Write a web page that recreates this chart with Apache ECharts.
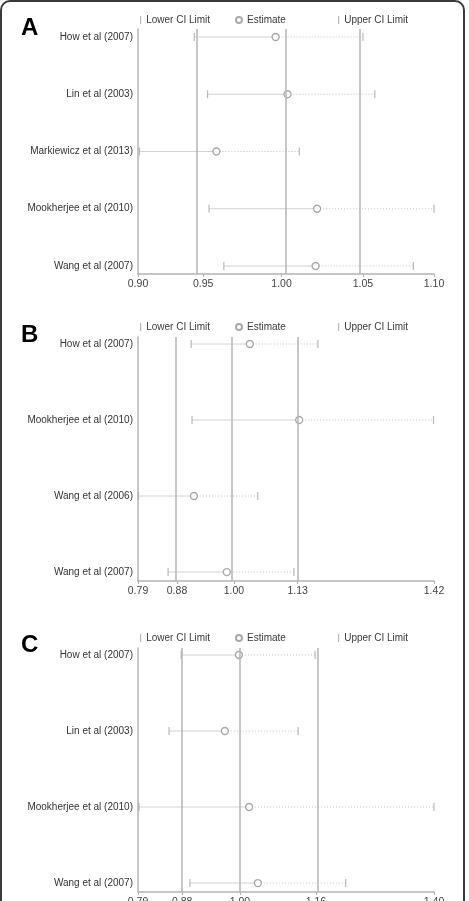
<!DOCTYPE html>
<html>
<head>
<meta charset="utf-8">
<script src="https://cdn.jsdelivr.net/npm/echarts@6/dist/echarts.min.js"></script>
<style>
  html, body { margin: 0; padding: 0; background: #fff; }
  #chart { width: 469px; height: 901px; }
</style>
</head>
<body>
<div id="chart"></div>
<script>
// panel A
const studiesA = ['How et al (2007)', 'Lin et al (2003)', 'Markiewicz et al (2013)', 'Mookherjee et al (2010)', 'Wang et al (2007)'];
const lowerA = [0.938, 0.947, 0.901, 0.948, 0.958];
const estA = [0.993, 1.001, 0.953, 1.021, 1.020];
const upperA = [1.052, 1.060, 1.009, 1.100, 1.086];
const refA = [0.944, 0.997, 1.052];
const ticksA = [0.90, 0.944, 0.997, 1.052, 1.10];
const tickLabelsA = ['0.90', '0.95', '1.00', '1.05', '1.10'];

// panel B
const studiesB = ['How et al (2007)', 'Mookherjee et al (2010)', 'Wang et al (2006)', 'Wang et al (2007)'];
const lowerB = [0.903, 0.905, 0.791, 0.854];
const estB = [1.028, 1.133, 0.909, 0.979];
const upperB = [1.173, 1.419, 1.045, 1.122];
const refB = [0.873, 0.994, 1.130];
const ticksB = [0.79, 0.873, 0.994, 1.130, 1.42];
const tickLabelsB = ['0.79', '0.88', '1.00', '1.13', '1.42'];

// panel C
const studiesC = ['How et al (2007)', 'Lin et al (2003)', 'Mookherjee et al (2010)', 'Wang et al (2007)'];
const lowerC = [0.879, 0.854, 0.792, 0.897];
const estC = [0.998, 0.969, 1.019, 1.037];
const upperC = [1.155, 1.120, 1.400, 1.218];
const refC = [0.881, 1.000, 1.157];
const ticksC = [0.79, 0.881, 1.000, 1.157, 1.40];
const tickLabelsC = ['0.79', '0.88', '1.00', '1.16', '1.40'];

const FONT = 'Liberation Sans, Arial, sans-serif';
const GRAY = '#b4b4b4';

const panels = [
  { letter: 'A', studies: studiesA, lower: lowerA, est: estA, upper: upperA, ref: refA, ticks: ticksA, labels: tickLabelsA,
    top: 29, height: 245, pad: [0.14, 0.14], legendTop: 15, letterTop: 11 },
  { letter: 'B', studies: studiesB, lower: lowerB, est: estB, upper: upperB, ref: refB, ticks: ticksB, labels: tickLabelsB,
    top: 337, height: 244, pad: [0.092, 0.118], legendTop: 322, letterTop: 318 },
  { letter: 'C', studies: studiesC, lower: lowerC, est: estC, upper: upperC, ref: refC, ticks: ticksC, labels: tickLabelsC,
    top: 648, height: 244, pad: [0.092, 0.118], legendTop: 633, letterTop: 628 }
];

function nearestLabel(p, v) {
  let best = 0;
  p.ticks.forEach((t, i) => {
    if (Math.abs(t - v) < Math.abs(p.ticks[best] - v)) best = i;
  });
  return p.labels[best];
}

const option = {
  backgroundColor: '#fff',
  animation: false,
  title: [],
  legend: [],
  grid: [],
  xAxis: [],
  yAxis: [],
  series: [],
  graphic: [{
    type: 'rect',
    shape: { x: 1, y: 1, width: 463, height: 940, r: 9 },
    style: { fill: 'none', stroke: '#3a3a3a', lineWidth: 2 },
    silent: true
  }]
};

panels.forEach((p, k) => {
  const n = p.studies.length;
  option.title.push({
    text: p.letter, left: 16, top: p.letterTop,
    textStyle: { fontFamily: FONT, fontSize: 24, fontWeight: 'bold', color: '#000' }
  });
  const legendText = { fontFamily: FONT, fontSize: 10, color: '#3a3a3a' };
  option.legend.push(
    { data: ['Lower CI Limit'], left: 140, top: p.legendTop, padding: 0, icon: 'rect', itemWidth: 1.2, itemHeight: 8, textStyle: legendText },
    { data: ['Estimate'], left: 235, top: p.legendTop, padding: 0, icon: 'circle', itemWidth: 6, itemHeight: 6, textStyle: legendText },
    { data: ['Upper CI Limit'], left: 338, top: p.legendTop, padding: 0, icon: 'rect', itemWidth: 1.2, itemHeight: 8, textStyle: legendText }
  );
  option.grid.push({ left: 138, width: 296, top: p.top, height: p.height, outerBoundsMode: 'none', containLabel: false });
  option.xAxis.push({
    type: 'value', gridIndex: k,
    min: p.ticks[0], max: p.ticks[p.ticks.length - 1],
    axisLine: { show: true, onZero: false, lineStyle: { color: GRAY, width: 1.5 } },
    axisTick: { show: true, customValues: p.ticks, length: 3, lineStyle: { color: GRAY, width: 1.2 } },
    axisLabel: {
      customValues: p.ticks, margin: 5, fontFamily: FONT, fontSize: 10.5, color: '#444',
      formatter: (v) => nearestLabel(p, v)
    },
    splitLine: { show: false }
  });
  option.yAxis.push({
    type: 'value', gridIndex: k, inverse: true,
    min: -p.pad[0], max: n - 1 + p.pad[1],
    axisLine: { show: true, onZero: false, lineStyle: { color: GRAY, width: 1.5 } },
    axisTick: { show: false },
    axisLabel: {
      customValues: p.studies.map((s, i) => i), margin: 5, fontFamily: FONT, fontSize: 10, color: '#333',
      formatter: (v) => p.studies[Math.round(v)] || ''
    },
    splitLine: { show: false }
  });

  const rows = p.studies.map((s, i) => [p.lower[i], p.est[i], p.upper[i], i]);
  option.series.push({
    type: 'custom', xAxisIndex: k, yAxisIndex: k, silent: true,
    data: rows,
    encode: { x: [0, 1, 2], y: 3 },
    renderItem: (params, api) => {
      const y = api.value(3);
      const a = api.coord([api.value(0), y]);
      const b = api.coord([api.value(1), y]);
      const c = api.coord([api.value(2), y]);
      return {
        type: 'group',
        children: [
          { type: 'line', shape: { x1: a[0], y1: a[1], x2: b[0], y2: b[1] },
            style: { stroke: '#d2d2d2', lineWidth: 1 } },
          { type: 'line', shape: { x1: b[0], y1: b[1], x2: c[0], y2: c[1] },
            style: { stroke: '#c0c0c0', lineWidth: 1, lineDash: [1, 2] } }
        ]
      };
    },
    markLine: {
      silent: true, symbol: 'none',
      label: { show: false },
      lineStyle: { color: GRAY, width: 1.5, type: 'solid' },
      data: p.ref.map((v) => ({ xAxis: v }))
    },
    z: 2
  });
  option.series.push({
    name: 'Lower CI Limit', type: 'scatter', xAxisIndex: k, yAxisIndex: k,
    symbol: 'rect', symbolSize: [1.2, 8],
    itemStyle: { color: '#a8a8a8' },
    data: p.lower.map((v, i) => [v, i]), z: 3
  });
  option.series.push({
    name: 'Upper CI Limit', type: 'scatter', xAxisIndex: k, yAxisIndex: k,
    symbol: 'rect', symbolSize: [1.2, 8],
    itemStyle: { color: '#a8a8a8' },
    data: p.upper.map((v, i) => [v, i]), z: 3
  });
  option.series.push({
    name: 'Estimate', type: 'scatter', xAxisIndex: k, yAxisIndex: k,
    symbol: 'circle', symbolSize: 7,
    itemStyle: { color: '#fff', borderColor: '#939393', borderWidth: 1.3 },
    data: p.est.map((v, i) => [v, i]), z: 4
  });
});

const chart = echarts.init(document.getElementById('chart'));
chart.setOption(option);
window.addEventListener('resize', () => chart.resize());
</script>
</body>
</html>
